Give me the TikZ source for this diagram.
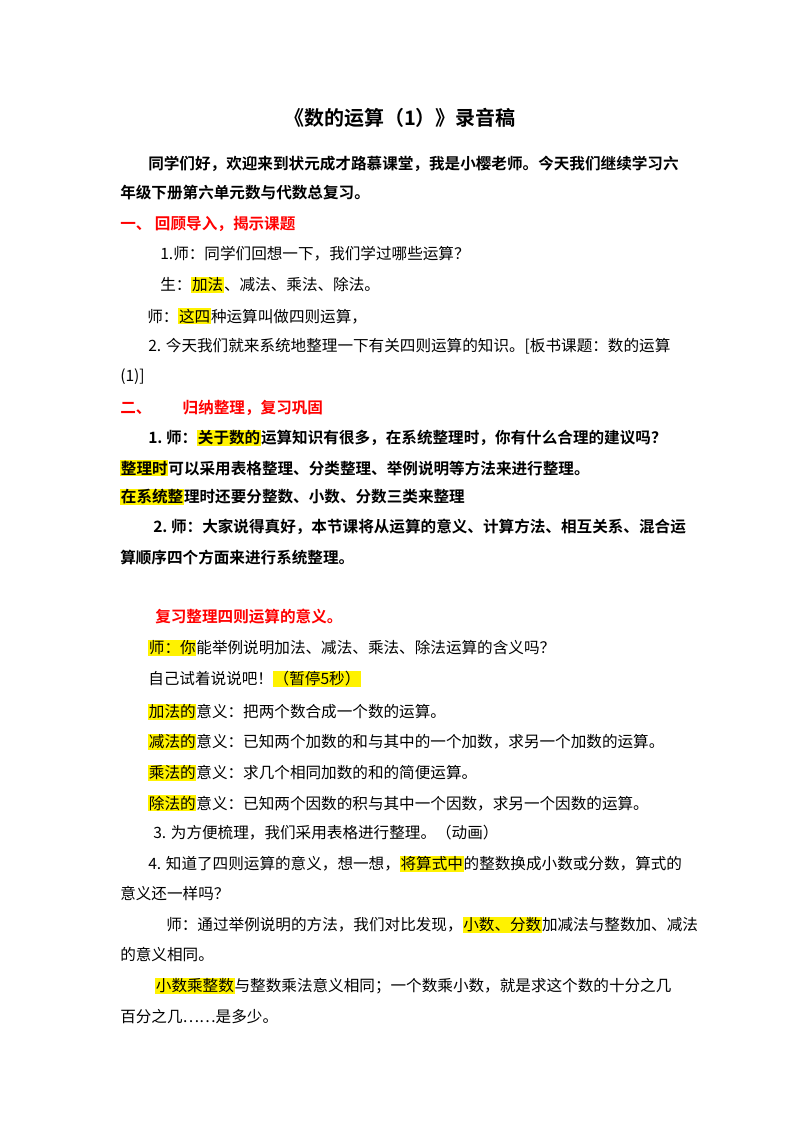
\documentclass[tikz,border=0pt]{standalone}
\usepackage{fontspec}
\setmainfont{Noto Sans CJK SC}[BoldFont={* Bold}]
\usepackage{xcolor}
\newcommand{\hl}[1]{{\setlength{\fboxsep}{0.5pt}\colorbox{yellow}{#1}}}
\tikzset{
    txtline/.style = {anchor=west, inner sep=0pt, font=\fontsize{11.7}{13}\selectfont},
    boldline/.style = {txtline, font=\fontsize{11.7}{13}\selectfont\bfseries},
    redline/.style = {boldline, text=red},
}
\begin{document}
\begin{tikzpicture}[x=0.75pt,y=-0.75pt]
\useasboundingbox (0,0) rectangle (800,1132);
\node[font=\fontsize{15}{18}\selectfont\bfseries] (title) at (400,118) {《数的运算（1）》录音稿};
%
\node[boldline] (p1a) at (148,164) {同学们好，欢迎来到状元成才路慕课堂，我是小樱老师。今天我们继续学习六};
\node[boldline] (p1b) at (120,193) {年级下册第六单元数与代数总复习。};
\node[redline] (s1) at (120,224) {一、\ 回顾导入，揭示课题};
\node[txtline] (l1) at (160,254) {1.师：同学们回想一下，我们学过哪些运算？};
\node[txtline] (l2) at (160,285) {生：\hl{加法}、减法、乘法、除法。};
\node[txtline] (l3) at (147,316) {师：\hl{这四}种运算叫做四则运算，};
\node[txtline] (l4) at (148,346) {2. 今天我们就来系统地整理一下有关四则运算的知识。[板书课题：数的运算};
\node[txtline] (l5) at (120,377) {(1)]};
\node[redline] (s2) at (120,408) {二、\qquad 归纳整理，复习巩固};
\node[boldline] (l6) at (148,438) {1.\ 师：\hl{关于数的}运算知识有很多，在系统整理时，你有什么合理的建议吗？};
\node[boldline] (l7) at (120,468) {\hl{整理时}可以采用表格整理、分类整理、举例说明等方法来进行整理。};
\node[boldline] (l8) at (120,497) {\hl{在系统整}理时还要分整数、小数、分数三类来整理};
\node[boldline] (l9) at (153,527) {2.\ 师：大家说得真好，本节课将从运算的意义、计算方法、相互关系、混合运};
\node[boldline] (l10) at (120,558) {算顺序四个方面来进行系统整理。};
%
\node[redline] (s3) at (155,617) {复习整理四则运算的意义。};
\node[txtline] (l11) at (148,648) {\hl{师：你}能举例说明加法、减法、乘法、除法运算的含义吗？};
\node[txtline] (l12) at (148,679) {自己试着说说吧！\hl{（暂停5秒）}};
\node[txtline] (l13) at (148,712) {\hl{加法的}意义：把两个数合成一个数的运算。};
\node[txtline] (l14) at (148,742) {\hl{减法的}意义：已知两个加数的和与其中的一个加数，求另一个加数的运算。};
\node[txtline] (l15) at (148,773) {\hl{乘法的}意义：求几个相同加数的和的简便运算。};
\node[txtline] (l16) at (148,803) {\hl{除法的}意义：已知两个因数的积与其中一个因数，求另一个因数的运算。};
\node[txtline] (l17) at (153,833) {3. 为方便梳理，我们采用表格进行整理。（动画）};
\node[txtline] (l18) at (148,864) {4. 知道了四则运算的意义，想一想，\hl{将算式中}的整数换成小数或分数，算式的};
\node[txtline] (l19) at (120,894) {意义还一样吗？};
\node[txtline] (l20) at (166,925) {师：通过举例说明的方法，我们对比发现，\hl{小数、分数}加减法与整数加、减法};
\node[txtline] (l21) at (120,955) {的意义相同。};
\node[txtline] (l22) at (155,986) {\hl{小数乘整数}与整数乘法意义相同；一个数乘小数，就是求这个数的十分之几};
\node[txtline] (l23) at (120,1017) {百分之几……是多少。};
\end{tikzpicture}
\end{document}
